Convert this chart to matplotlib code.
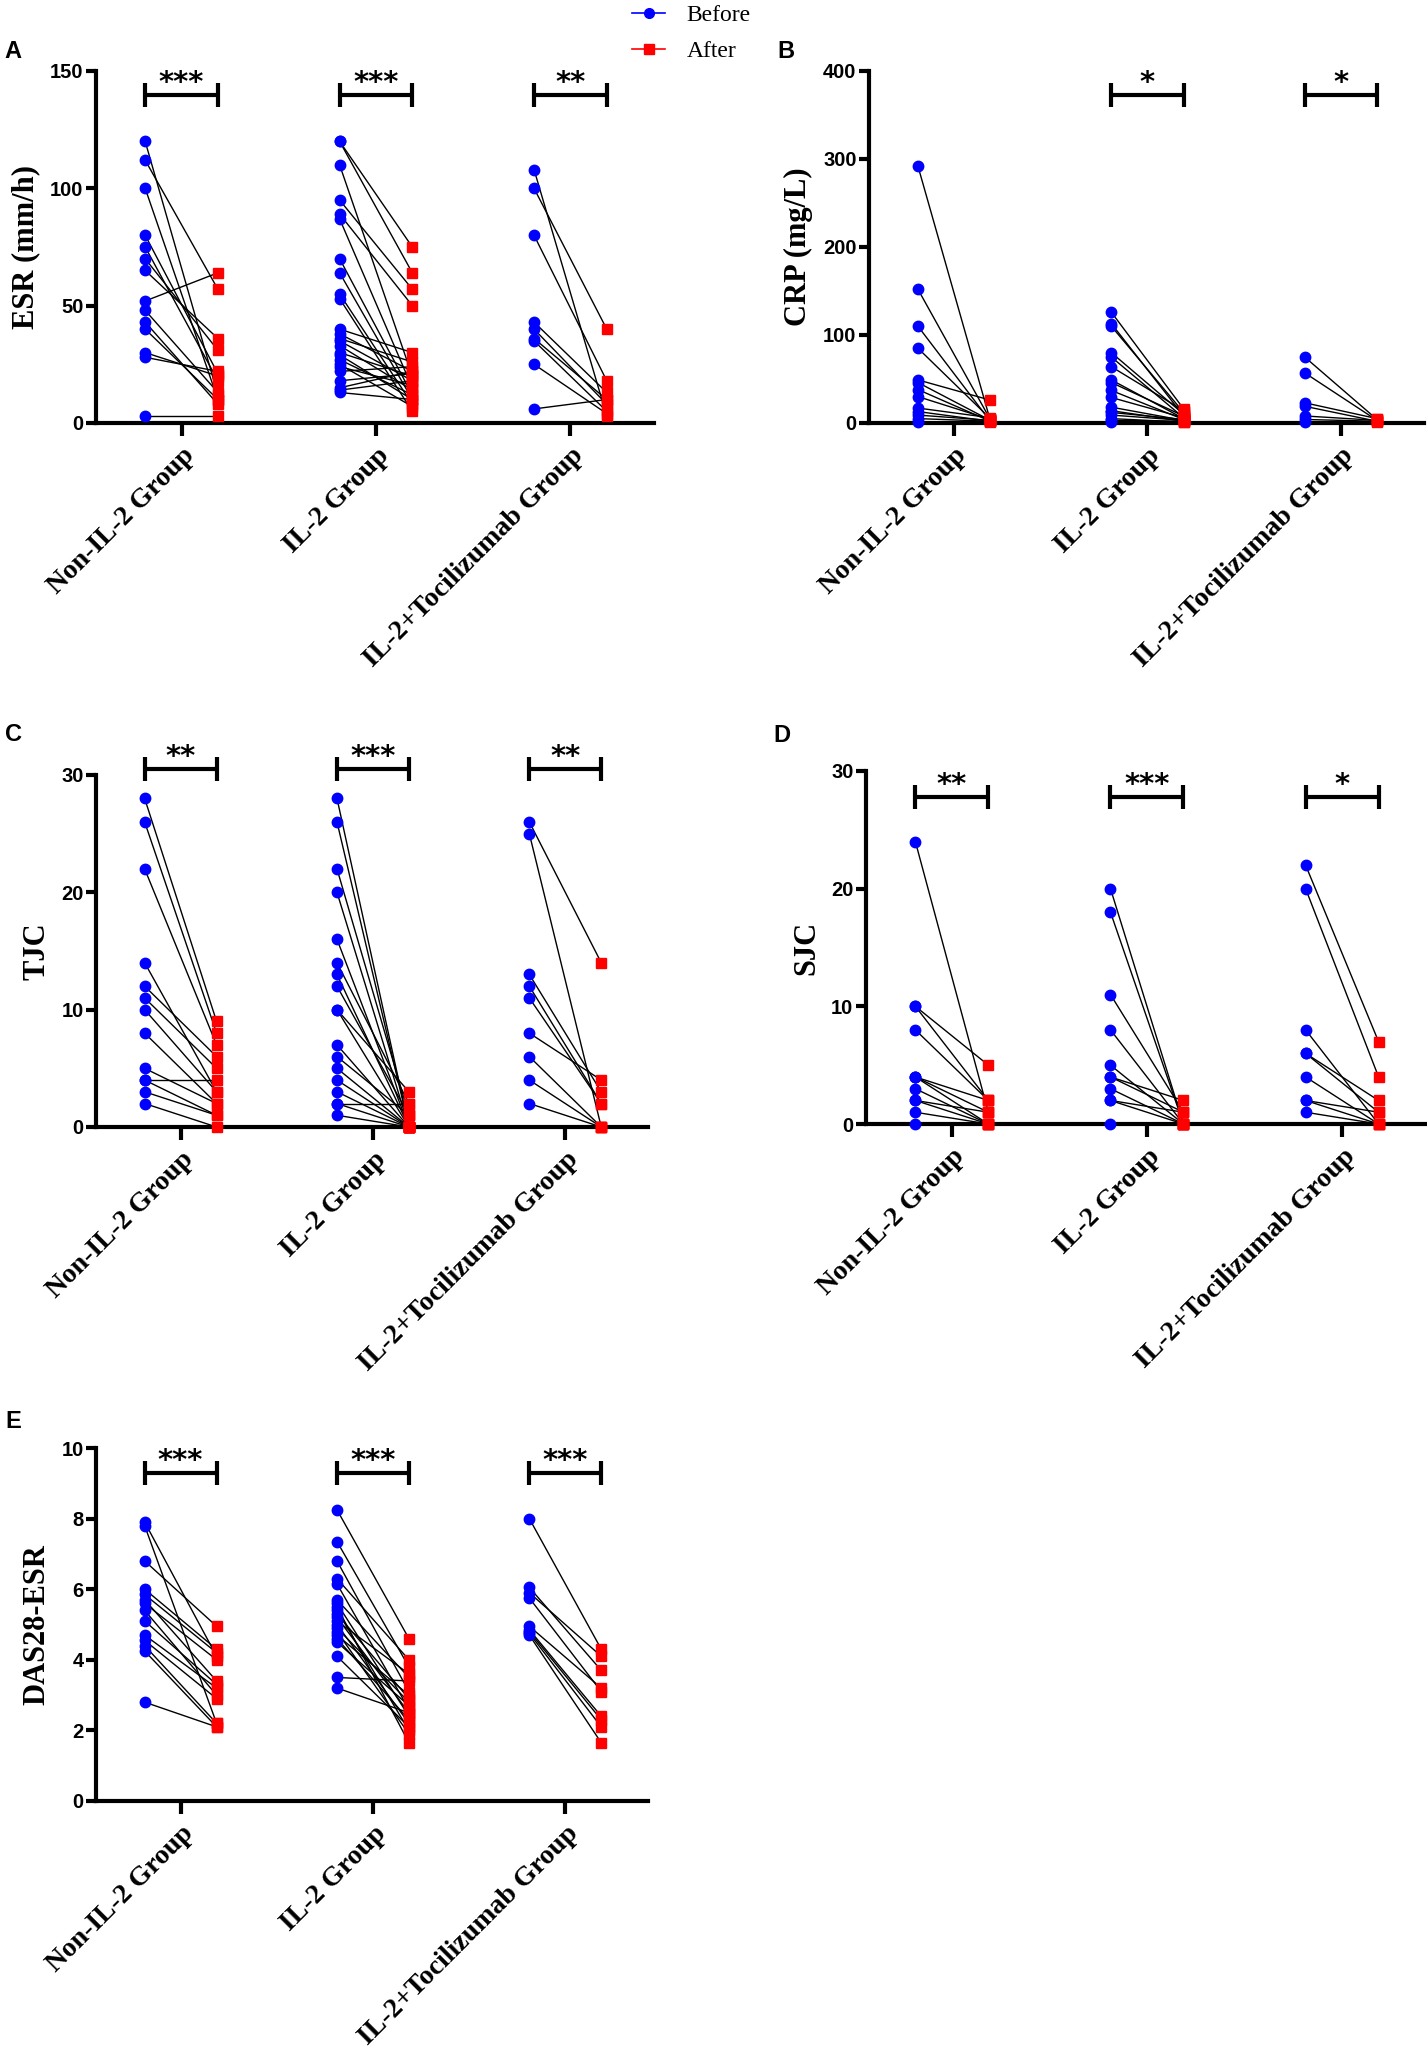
import matplotlib
matplotlib.use("Agg")
import matplotlib.pyplot as plt
from matplotlib.lines import Line2D
from matplotlib import font_manager

groups = ["Non-IL-2 Group", "IL-2 Group", "IL-2+Tocilizumab Group"]

# ESR (mm/h), paired values per group
esr_before = [
    [120, 112, 100, 80, 75, 70, 65, 52, 48, 43, 40, 30, 28, 3],
    [120, 120, 110, 95, 89, 87, 70, 64, 55, 53, 40, 38, 36, 35, 33, 30, 29, 27, 25, 24, 22, 18, 15, 14, 13],
    [108, 100, 80, 43, 40, 36, 35, 25, 6],
]
esr_after = [
    [12, 57, 10, 21, 18, 31, 36, 64, 13, 8, 10, 20, 22, 3],
    [75, 64, 20, 57, 50, 15, 12, 10, 8, 5, 30, 22, 26, 18, 14, 20, 10, 12, 7, 16, 24, 21, 22, 18, 10],
    [3, 40, 18, 13, 8, 10, 5, 4, 10],
]
esr_stars = ["***", "***", "**"]

# CRP (mg/L)
crp_before = [
    [292, 152, 110, 85, 49, 46, 38, 30, 17, 13, 9, 5, 1],
    [126, 113, 110, 80, 75, 64, 49, 46, 37, 29, 18, 14, 12, 9, 5, 3, 1],
    [75, 57, 23, 19, 8, 4, 1],
]
crp_after = [
    [3, 4, 2, 5, 26, 3, 2, 4, 6, 2, 3, 2, 1],
    [16, 8, 12, 10, 6, 14, 5, 8, 4, 6, 3, 2, 4, 3, 1, 2, 1],
    [4, 3, 5, 2, 3, 2, 1],
]
crp_stars = ["", "*", "*"]

# TJC
tjc_before = [
    [28, 26, 22, 14, 12, 11, 10, 8, 5, 4, 4, 3, 2],
    [28, 26, 22, 20, 16, 14, 13, 12, 10, 10, 7, 6, 5, 4, 3, 2, 2, 1],
    [26, 25, 13, 12, 11, 8, 6, 4, 2],
]
tjc_after = [
    [9, 8, 7, 3, 6, 5, 3, 2, 2, 4, 1, 1, 0],
    [0, 0, 1, 0, 0, 2, 0, 1, 0, 3, 0, 1, 0, 0, 0, 2, 0, 0],
    [14, 0, 3, 2, 2, 4, 0, 0, 0],
]
tjc_stars = ["**", "***", "**"]

# SJC
sjc_before = [
    [24, 10, 10, 8, 4, 4, 4, 3, 2, 2, 1, 0],
    [20, 18, 11, 8, 5, 4, 4, 3, 2, 2, 0],
    [22, 20, 8, 6, 6, 4, 2, 2, 1],
]
sjc_after = [
    [1, 5, 2, 2, 1, 0, 2, 0, 1, 0, 0, 0],
    [0, 0, 1, 0, 0, 2, 1, 0, 1, 0, 0],
    [7, 4, 0, 2, 1, 0, 1, 0, 0],
]
sjc_stars = ["**", "***", "*"]

# DAS28-ESR
das_before = [
    [7.9, 7.8, 6.8, 6.0, 5.85, 5.7, 5.6, 5.4, 5.1, 4.7, 4.55, 4.4, 4.25, 2.8],
    [8.25, 7.35, 6.8, 6.3, 6.15, 5.7, 5.6, 5.5, 5.4, 5.3, 5.2, 5.1, 5.0, 4.9, 4.8, 4.7, 4.6, 4.5, 4.1, 3.5, 3.2],
    [8.0, 6.05, 5.9, 5.75, 4.95, 4.85, 4.8, 4.75, 4.7],
]
das_after = [
    [4.1, 2.2, 4.95, 4.3, 4.2, 3.4, 4.0, 3.0, 3.3, 3.2, 2.9, 2.2, 2.1, 2.1],
    [4.6, 3.8, 3.1, 4.0, 2.6, 3.5, 2.4, 1.65, 2.0, 2.9, 2.5, 3.6, 2.2, 2.8, 1.9, 3.0, 2.3, 2.7, 2.1, 3.4, 2.5],
    [4.3, 3.7, 4.1, 3.1, 3.2, 2.4, 2.3, 2.1, 1.65],
]
das_stars = ["***", "***", "***"]

# narrow bold sans for the numbers if it is there, else plain Liberation Sans bold
narrow_bold = any(f.name == "Liberation Sans Narrow" and f.weight in (700, "bold")
                  for f in font_manager.fontManager.ttflist)
if narrow_bold:
    tick_font, tick_size = ["Liberation Sans Narrow"], 15.5
else:
    tick_font, tick_size = ["Liberation Sans"], 14.5
serif = ["Liberation Serif", "DejaVu Serif"]

BLUE = "#0000FF"
RED = "#FF0000"
OFF = 0.187


def draw_panel(ax, before, after, stars, ymax, yticks, ylabel, bar_frac, letter, letter_y):
    for i in range(len(groups)):
        xb, xa = i - OFF, i + OFF
        for b, a in zip(before[i], after[i]):
            ax.plot([xb, xa], [b, a], color="black", lw=1.0, zorder=2, clip_on=False)
        ax.plot([xb] * len(before[i]), before[i], "o", color=BLUE, ms=7.5, mec=BLUE,
                zorder=3, clip_on=False)
        ax.plot([xa] * len(after[i]), after[i], "s", color=RED, ms=7.5, mec=RED,
                zorder=3, clip_on=False)
        if stars[i]:
            y = bar_frac * ymax
            h = 0.034 * ymax
            ax.plot([xb, xa], [y, y], color="black", lw=3, clip_on=False, solid_capstyle="butt")
            ax.plot([xb, xb], [y - h, y + h], color="black", lw=3, clip_on=False, solid_capstyle="butt")
            ax.plot([xa, xa], [y - h, y + h], color="black", lw=3, clip_on=False, solid_capstyle="butt")
            ax.text(i, y + 0.012 * ymax, stars[i], ha="center", va="baseline",
                    fontsize=21, fontweight="bold", family="DejaVu Sans")
        # group label, rotated, its end just right of the tick
        ax.annotate(groups[i], xy=(i, 0), xycoords=("data", "axes fraction"),
                    xytext=(6.5, -20.5), textcoords="offset points", rotation=45,
                    ha="right", va="center", rotation_mode="anchor",
                    family=serif, fontweight="bold", fontsize=20, annotation_clip=False)

    ax.set_xlim(-0.44, 2.43)
    ax.set_ylim(0, ymax)
    ax.set_yticks(yticks)
    ax.set_yticklabels([str(t) for t in yticks], family=tick_font, fontweight="bold",
                       fontsize=tick_size)
    ax.set_xticks(range(len(groups)))
    ax.set_xticklabels([])
    for s in ["top", "right"]:
        ax.spines[s].set_visible(False)
    for s in ["left", "bottom"]:
        ax.spines[s].set_linewidth(3)
    ax.tick_params(axis="y", width=3, length=7, pad=2)
    ax.tick_params(axis="x", width=3, length=9)
    ax.set_ylabel(ylabel, family=serif, fontweight="bold", fontsize=22, labelpad=7)
    ax.text(-0.165, letter_y, letter, transform=ax.transAxes, fontsize=17, fontweight="bold",
            family="Liberation Sans", ha="left", va="center")


W, H = 1427, 2049
fig = plt.figure(figsize=(W / 100, H / 100), dpi=100)


def box(x0, x1, ytop, ybot):
    return [x0 / W, 1 - ybot / H, (x1 - x0) / W, (ybot - ytop) / H]


axA = fig.add_axes(box(96, 654, 71, 423))
axB = fig.add_axes(box(869, 1424, 71, 423))
axC = fig.add_axes(box(96, 648, 775, 1127))
axD = fig.add_axes(box(866, 1426, 771, 1124))
axE = fig.add_axes(box(96, 648, 1448, 1801))

draw_panel(axA, esr_before, esr_after, esr_stars, 150, [0, 50, 100, 150], "ESR (mm/h)", 0.932, "A", 1.054)
draw_panel(axB, crp_before, crp_after, crp_stars, 400, [0, 100, 200, 300, 400], "CRP (mg/L)", 0.932, "B", 1.054)
draw_panel(axC, tjc_before, tjc_after, tjc_stars, 30, [0, 10, 20, 30], "TJC", 1.017, "C", 1.116)
draw_panel(axD, sjc_before, sjc_after, sjc_stars, 30, [0, 10, 20, 30], "SJC", 0.926, "D", 1.10)
draw_panel(axE, das_before, das_after, das_stars, 10, [0, 2, 4, 6, 8, 10], "DAS28-ESR", 0.929, "E", 1.074)

handles = [
    Line2D([0], [0], color=BLUE, lw=1.2, marker="o", ms=7, label="Before"),
    Line2D([0], [0], color=RED, lw=1.2, marker="s", ms=7, label="After"),
]
fig.legend(handles=handles, loc="upper left", bbox_to_anchor=(0.428, 1.008), frameon=False,
           prop={"family": serif, "size": 17}, handlelength=1.4, handletextpad=0.9,
           labelspacing=0.6)

fig.savefig("out.png", dpi=100, facecolor="white")
